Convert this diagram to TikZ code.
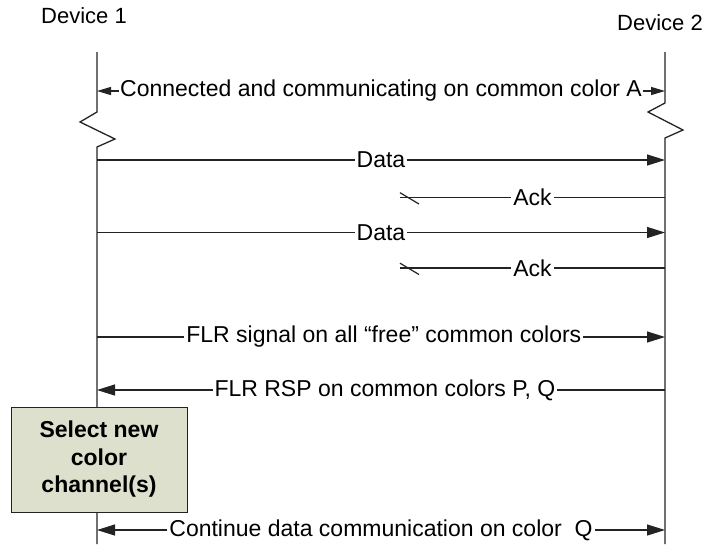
\documentclass[tikz,border=0pt]{standalone}
\usepackage{fontspec}
\setmainfont{Liberation Sans}
\usetikzlibrary{arrows.meta}
\definecolor{boxfill}{RGB}{221,224,204}
\definecolor{linecol}{RGB}{35,35,35}
\begin{document}
\begin{tikzpicture}[x=1pt,y=-1pt,
  lifeline/.style={draw=linecol,line width=1.3pt},
  msg/.style={draw=linecol,line width=1.2pt},
  tipbig/.style={-{Triangle[length=18pt,width=11pt]}},
  tipboth/.style={{Triangle[length=18pt,width=11pt]}-{Triangle[length=18pt,width=11pt]}},
  tipsmall/.style={{Triangle[length=14pt,width=8pt]}-{Triangle[length=14pt,width=8pt]}},
  tipleft/.style={{Triangle[length=18pt,width=11pt]}-},
  lbl/.style={font=\fontsize{23}{27}\selectfont,fill=white,inner sep=2pt},
  dev/.style={font=\fontsize{22}{26}\selectfont,inner sep=0pt},
  selbox/.style={draw=linecol,fill=boxfill,line width=1pt,font=\bfseries\fontsize{23}{27.5}\selectfont,align=center,minimum width=176pt,minimum height=105pt,inner sep=0pt}
]
\useasboundingbox (0,0) rectangle (705,547);

% device labels
\node[dev] (dev1) at (84,16) {Device 1};
\node[dev] (dev2) at (660,23) {Device 2};

% lifeline coordinates
\coordinate (l1top) at (97,52);
\coordinate (l1a) at (97,112);
\coordinate (l1z1) at (80,122);
\coordinate (l1z2) at (115,139);
\coordinate (l1b) at (97,147);
\coordinate (l1bot) at (97,544);
\coordinate (l2top) at (665,52);
\coordinate (l2a) at (665,103);
\coordinate (l2z1) at (648,112);
\coordinate (l2z2) at (683,130);
\coordinate (l2b) at (665,138);
\coordinate (l2bot) at (665,544);

\draw[lifeline] (l1top) -- (l1a) -- (l1z1) -- (l1z2) -- (l1b) -- (l1bot);
\draw[lifeline] (l2top) -- (l2a) -- (l2z1) -- (l2z2) -- (l2b) -- (l2bot);

% message end points
\coordinate (cL) at (97,91);   \coordinate (cR) at (665,91);
\coordinate (d1L) at (97,160); \coordinate (d1R) at (665,160);
\coordinate (a1R) at (665,197.5); \coordinate (a1E) at (400,197.5);
\coordinate (a1s) at (400,192.7); \coordinate (a1t) at (419,204);
\coordinate (d2L) at (97,232.5); \coordinate (d2R) at (665,232.5);
\coordinate (a2R) at (665,268); \coordinate (a2E) at (400,268);
\coordinate (a2s) at (400,263.2); \coordinate (a2t) at (419,274.5);
\coordinate (fL) at (97,337); \coordinate (fR) at (665,337);
\coordinate (rL) at (97,390); \coordinate (rR) at (665,390);
\coordinate (kL) at (97,530); \coordinate (kR) at (665,530);

% messages
\draw[msg,tipsmall] (cL) -- (cR) node[lbl,midway,inner sep=1pt] (cT) {Connected and communicating on common color A};
\draw[msg,tipbig] (d1L) -- (d1R) node[lbl,midway] (d1T) {Data};
\draw[msg] (a1R) -- (a1E) node[lbl,midway] (a1T) {Ack};
\draw[msg] (a1s) -- (a1t);
\draw[msg,tipbig] (d2L) -- (d2R) node[lbl,midway] (d2T) {Data};
\draw[msg] (a2R) -- (a2E) node[lbl,midway] (a2T) {Ack};
\draw[msg] (a2s) -- (a2t);
\draw[msg,tipbig] (fL) -- (fR) node[lbl,pos=0.505] (fT) {FLR signal on all “free” common colors};
\draw[msg,tipleft] (rL) -- (rR) node[lbl,pos=0.507] (rT) {FLR RSP on common colors P, Q};
\draw[msg,tipboth] (kL) -- (kR) node[lbl,midway] (kT) {Continue data communication on color\ \ Q};

% box
\node[selbox] (sel) at (99,459.5) {Select new\\color\\channel(s)};
\end{tikzpicture}
\end{document}
